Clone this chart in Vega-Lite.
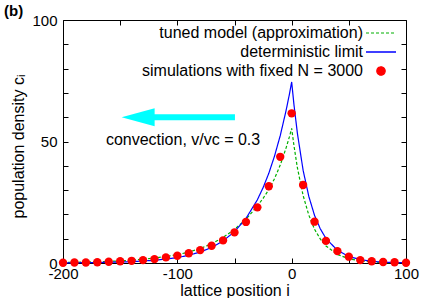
{
  "$schema": "https://vega.github.io/schema/vega-lite/v6.json",
  "width": 343,
  "height": 243,
  "autosize": "none",
  "padding": {"left": 63, "top": 20, "right": 19, "bottom": 35},
  "title": {"text": "(b)", "fontSize": 15, "fontWeight": "bold", "anchor": "start", "frame": "group", "dx": -59, "offset": -6, "color": "black"},
  "config": {
    "font": "Liberation Sans",
    "view": {"stroke": "black", "strokeWidth": 1},
    "axis": {"domain": false, "grid": false, "tickColor": "black", "labelColor": "black", "titleColor": "black", "labelFontSize": 15, "titleFontSize": 16, "titleFontWeight": "normal", "labelFont": "Liberation Sans", "titleFont": "Liberation Sans", "tickSize": -5, "labelOverlap": false, "labelFlush": false},
    "legend": {"labelFont": "Liberation Sans"}
  },
  "datasets": {
    "curves": [
      {"i": -200, "c": 0.21, "series": "tuned model (approximation)"},
      {"i": -180, "c": 0.37, "series": "tuned model (approximation)"},
      {"i": -160, "c": 0.65, "series": "tuned model (approximation)"},
      {"i": -140, "c": 1.13, "series": "tuned model (approximation)"},
      {"i": -120, "c": 2.0, "series": "tuned model (approximation)"},
      {"i": -100, "c": 3.4, "series": "tuned model (approximation)"},
      {"i": -90, "c": 4.5, "series": "tuned model (approximation)"},
      {"i": -80, "c": 6.0, "series": "tuned model (approximation)"},
      {"i": -70, "c": 7.9, "series": "tuned model (approximation)"},
      {"i": -60, "c": 10.5, "series": "tuned model (approximation)"},
      {"i": -50, "c": 13.8, "series": "tuned model (approximation)"},
      {"i": -40, "c": 18.0, "series": "tuned model (approximation)"},
      {"i": -30, "c": 23.5, "series": "tuned model (approximation)"},
      {"i": -25, "c": 26.6, "series": "tuned model (approximation)"},
      {"i": -20, "c": 30.2, "series": "tuned model (approximation)"},
      {"i": -15, "c": 34.7, "series": "tuned model (approximation)"},
      {"i": -10, "c": 40.3, "series": "tuned model (approximation)"},
      {"i": -5, "c": 47.2, "series": "tuned model (approximation)"},
      {"i": -2, "c": 51.9, "series": "tuned model (approximation)"},
      {"i": 0, "c": 55.4, "series": "tuned model (approximation)"},
      {"i": 2, "c": 48.3, "series": "tuned model (approximation)"},
      {"i": 5, "c": 39.2, "series": "tuned model (approximation)"},
      {"i": 10, "c": 27.8, "series": "tuned model (approximation)"},
      {"i": 15, "c": 19.7, "series": "tuned model (approximation)"},
      {"i": 20, "c": 13.9, "series": "tuned model (approximation)"},
      {"i": 25, "c": 9.9, "series": "tuned model (approximation)"},
      {"i": 30, "c": 7.0, "series": "tuned model (approximation)"},
      {"i": 40, "c": 3.5, "series": "tuned model (approximation)"},
      {"i": 50, "c": 1.76, "series": "tuned model (approximation)"},
      {"i": 60, "c": 0.89, "series": "tuned model (approximation)"},
      {"i": 70, "c": 0.44, "series": "tuned model (approximation)"},
      {"i": 80, "c": 0.22, "series": "tuned model (approximation)"},
      {"i": 90, "c": 0.11, "series": "tuned model (approximation)"},
      {"i": 100, "c": 0.06, "series": "tuned model (approximation)"},
      {"i": -200, "c": 0.07, "series": "deterministic limit"},
      {"i": -180, "c": 0.13, "series": "deterministic limit"},
      {"i": -160, "c": 0.27, "series": "deterministic limit"},
      {"i": -140, "c": 0.55, "series": "deterministic limit"},
      {"i": -120, "c": 1.1, "series": "deterministic limit"},
      {"i": -100, "c": 2.2, "series": "deterministic limit"},
      {"i": -90, "c": 3.2, "series": "deterministic limit"},
      {"i": -80, "c": 4.5, "series": "deterministic limit"},
      {"i": -70, "c": 6.4, "series": "deterministic limit"},
      {"i": -60, "c": 9.1, "series": "deterministic limit"},
      {"i": -50, "c": 12.9, "series": "deterministic limit"},
      {"i": -40, "c": 18.3, "series": "deterministic limit"},
      {"i": -30, "c": 26.0, "series": "deterministic limit"},
      {"i": -25, "c": 31.0, "series": "deterministic limit"},
      {"i": -20, "c": 36.9, "series": "deterministic limit"},
      {"i": -15, "c": 44.0, "series": "deterministic limit"},
      {"i": -10, "c": 52.4, "series": "deterministic limit"},
      {"i": -5, "c": 62.5, "series": "deterministic limit"},
      {"i": -2, "c": 69.4, "series": "deterministic limit"},
      {"i": 0, "c": 74.5, "series": "deterministic limit"},
      {"i": 2, "c": 65.2, "series": "deterministic limit"},
      {"i": 5, "c": 53.4, "series": "deterministic limit"},
      {"i": 10, "c": 38.2, "series": "deterministic limit"},
      {"i": 15, "c": 27.4, "series": "deterministic limit"},
      {"i": 20, "c": 19.6, "series": "deterministic limit"},
      {"i": 25, "c": 14.1, "series": "deterministic limit"},
      {"i": 30, "c": 10.1, "series": "deterministic limit"},
      {"i": 40, "c": 5.2, "series": "deterministic limit"},
      {"i": 50, "c": 2.7, "series": "deterministic limit"},
      {"i": 60, "c": 1.4, "series": "deterministic limit"},
      {"i": 70, "c": 0.7, "series": "deterministic limit"},
      {"i": 80, "c": 0.36, "series": "deterministic limit"},
      {"i": 90, "c": 0.18, "series": "deterministic limit"},
      {"i": 100, "c": 0.1, "series": "deterministic limit"}
    ],
    "sims": [
      {"i": -200, "c": 0.1}, {"i": -190, "c": 0.2}, {"i": -180, "c": 0.2}, {"i": -170, "c": 0.3},
      {"i": -160, "c": 0.5}, {"i": -150, "c": 0.7}, {"i": -140, "c": 0.9}, {"i": -130, "c": 1.2},
      {"i": -120, "c": 1.6}, {"i": -110, "c": 2.3}, {"i": -100, "c": 3.0}, {"i": -90, "c": 4.0},
      {"i": -80, "c": 5.3}, {"i": -70, "c": 7.1}, {"i": -60, "c": 9.3}, {"i": -50, "c": 12.6},
      {"i": -40, "c": 16.9}, {"i": -30, "c": 22.9}, {"i": -20, "c": 31.6}, {"i": -10, "c": 43.7},
      {"i": 0, "c": 61.6}, {"i": 10, "c": 32.1}, {"i": 20, "c": 17.0}, {"i": 30, "c": 9.1},
      {"i": 40, "c": 4.9}, {"i": 50, "c": 2.6}, {"i": 60, "c": 1.2}, {"i": 70, "c": 0.7},
      {"i": 80, "c": 0.4}, {"i": 90, "c": 0.3}, {"i": 100, "c": 0.1}
    ],
    "arrowBody": [{"i": -121, "i2": -49.6, "c": 60}],
    "arrowHead": [{"i": -134.3, "c": 60}],
    "label": [{"i": -95, "c": 50.6, "text": "convection, v/vc = 0.3"}]
  },
  "resolve": {"axis": {"x": "independent", "y": "independent"}},
  "layer": [
    {
      "data": {"name": "curves"},
      "mark": {"type": "line", "strokeWidth": 1.2, "clip": false},
      "encoding": {
        "x": {"field": "i", "type": "quantitative", "scale": {"domain": [-200, 100], "nice": false, "zero": false},
          "axis": {"orient": "bottom", "values": [-200, -150, -100, -50, 0, 50, 100], "labelExpr": "datum.value % 100 === 0 ? '' + datum.value : ''", "labelPadding": 8, "title": "lattice position i", "titlePadding": 1}},
        "y": {"field": "c", "type": "quantitative", "scale": {"domain": [0, 100], "nice": false, "zero": false},
          "axis": {"orient": "left", "values": [0, 10, 20, 30, 40, 50, 60, 70, 80, 90, 100], "labelExpr": "datum.value % 50 === 0 ? '' + datum.value : ''", "labelPadding": 11, "title": "population density cᵢ", "titlePadding": 5, "titleY": 126}},
        "color": {"field": "series", "type": "nominal",
          "scale": {"domain": ["tuned model (approximation)", "deterministic limit", "simulations with fixed N = 3000"], "range": ["#00b000", "#0000ff", "#ff0000"]},
          "legend": {
            "orient": "none", "legendX": 310, "legendY": 5, "title": null, "padding": 0,
            "labelFontSize": 16, "labelColor": "black", "labelAlign": "right", "labelOffset": -26, "labelLimit": 0,
            "rowPadding": 3, "symbolSize": 100, "symbolType": "M-3,0L3,0",
            "encode": {"symbols": {"update": {
              "shape": {"signal": "datum.value === 'simulations with fixed N = 3000' ? 'circle' : 'M-3,0L3,0'"},
              "size": {"signal": "datum.value === 'simulations with fixed N = 3000' ? 70 : 100"},
              "fill": {"signal": "datum.value === 'simulations with fixed N = 3000' ? '#ff0000' : 'transparent'"},
              "stroke": {"signal": "datum.value === 'simulations with fixed N = 3000' ? 'transparent' : (datum.value === 'deterministic limit' ? '#0000ff' : '#00b000')"},
              "strokeDash": {"signal": "datum.value === 'tuned model (approximation)' ? [3, 2] : [1, 0]"},
              "strokeWidth": {"signal": "datum.value === 'deterministic limit' ? 1.5 : 1.2"},
              "opacity": {"value": 1}
            }}}
          }},
        "strokeDash": {"field": "series", "type": "nominal", "scale": {"domain": ["tuned model (approximation)", "deterministic limit"], "range": [[3, 2], [1, 0]]}, "legend": null},
        "order": {"field": "i", "type": "quantitative"}
      }
    },
    {
      "data": {"name": "sims"},
      "mark": {"type": "circle", "size": 70, "opacity": 1, "clip": false},
      "encoding": {
        "x": {"field": "i", "type": "quantitative", "axis": null},
        "y": {"field": "c", "type": "quantitative", "axis": null},
        "color": {"datum": "simulations with fixed N = 3000"}
      }
    },
    {
      "data": {"name": "arrowBody"},
      "mark": {"type": "rule", "strokeWidth": 6, "color": "#00ffff"},
      "encoding": {
        "x": {"field": "i", "type": "quantitative",
          "axis": {"orient": "top", "values": [-200, -150, -100, -50, 0, 50, 100], "labels": false, "title": null}},
        "x2": {"field": "i2"},
        "y": {"field": "c", "type": "quantitative",
          "axis": {"orient": "right", "values": [0, 10, 20, 30, 40, 50, 60, 70, 80, 90, 100], "labels": false, "title": null}}
      }
    },
    {
      "data": {"name": "arrowHead"},
      "mark": {"type": "point", "shape": "M-1,0L1,-0.55L1,0.55Z", "size": 1089, "filled": true, "color": "#00ffff", "opacity": 1, "strokeWidth": 0},
      "encoding": {
        "x": {"field": "i", "type": "quantitative", "axis": null},
        "y": {"field": "c", "type": "quantitative", "axis": null}
      }
    },
    {
      "data": {"name": "label"},
      "mark": {"type": "text", "fontSize": 16, "align": "center", "baseline": "middle", "color": "black", "font": "Liberation Sans"},
      "encoding": {
        "x": {"field": "i", "type": "quantitative", "axis": null},
        "y": {"field": "c", "type": "quantitative", "axis": null},
        "text": {"field": "text"}
      }
    }
  ]
}
